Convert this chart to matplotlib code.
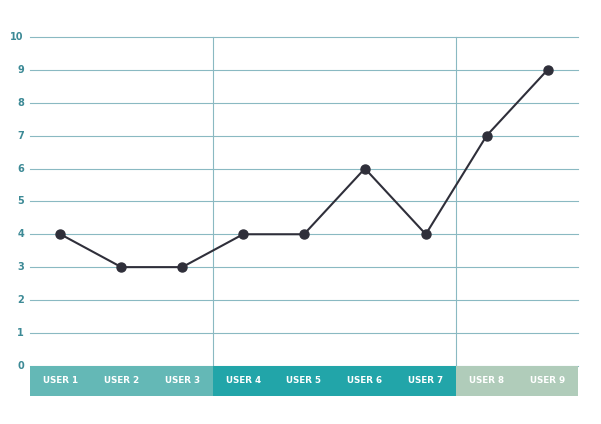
import matplotlib
matplotlib.use("Agg")
import matplotlib.pyplot as plt

users = ["USER 1", "USER 2", "USER 3", "USER 4", "USER 5", "USER 6", "USER 7", "USER 8", "USER 9"]
values = [4, 3, 3, 4, 4, 6, 4, 7, 9]
groups = [0, 0, 0, 1, 1, 1, 1, 2, 2]
group_colors = ["#64b8b6", "#22a5a9", "#b0ccba"]
yticks = list(range(0, 11))

grid_c = "#8ab9c2"
label_c = "#3d8a96"
band_h = 0.92

fig = plt.figure(figsize=(6.01, 4.24), dpi=100)
ax = fig.add_axes([30 / 601, 1 - 396 / 424, 548 / 601, (396 - 37) / 424])

x = list(range(len(users)))

# category band under the plot
ax.bar(x, [band_h] * len(x), bottom=-band_h, width=1.0,
       color=[group_colors[g] for g in groups], linewidth=0, zorder=1)
for i, u in enumerate(users):
    ax.text(i, -band_h / 2, u, color="white", fontsize=6.3, fontweight="bold",
            ha="center", va="center", zorder=3)

# horizontal grid
for t in yticks:
    ax.plot([-0.5, len(x) - 0.5], [t, t], color=grid_c, lw=0.8, zorder=0,
            clip_on=False)
    ax.text(-0.6, t, str(t), color=label_c, fontsize=7, fontweight="bold",
            ha="right", va="center")

# group dividers
for i in range(1, len(groups)):
    if groups[i] != groups[i - 1]:
        ax.plot([i - 0.5, i - 0.5], [0, 10], color=grid_c, lw=0.8, zorder=0,
                clip_on=False)

ax.plot(x, values, color="#2f2f3a", lw=1.5, marker="o", markersize=6.5,
        markerfacecolor="#2f2f3a", markeredgecolor="#2f2f3a", zorder=4)

ax.set_xlim(-0.5, len(x) - 0.5)
ax.set_ylim(-band_h, 10)
ax.axis("off")

fig.savefig("out.png", dpi=100, facecolor="white")
